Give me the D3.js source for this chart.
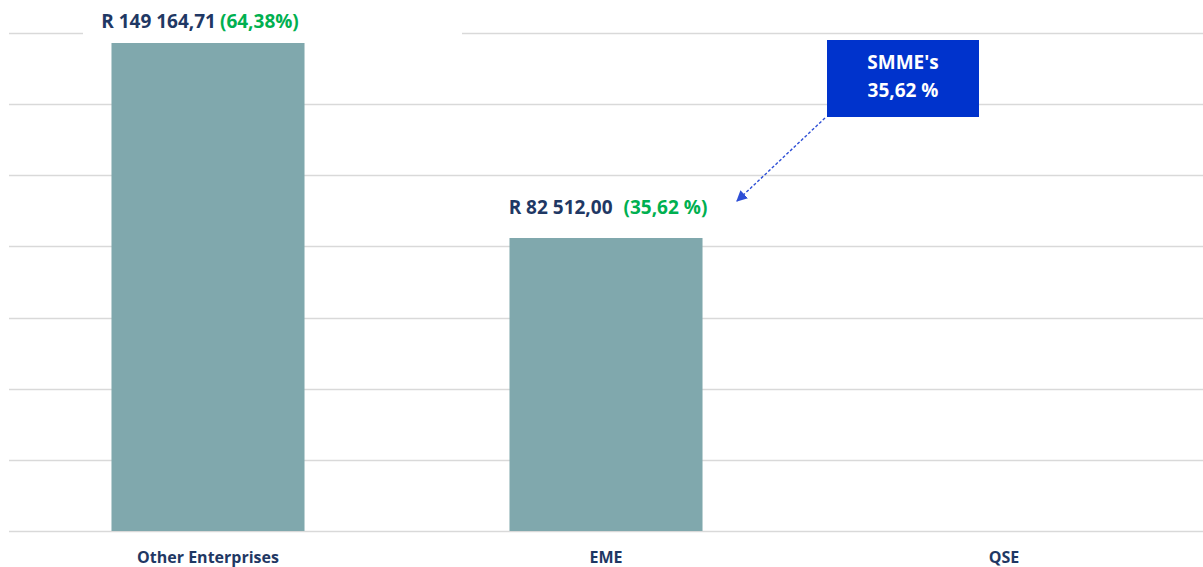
<!DOCTYPE html>
<html><head><meta charset="utf-8">
<script src="https://cdn.jsdelivr.net/npm/d3@7"></script>
<style>body{margin:0;background:#fff}svg{display:block}</style>
</head><body>
<svg id="c" width="1203" height="567"></svg>
<script>
const categories = ["Other Enterprises", "EME", "QSE"];
// bar heights as plotted
const barValues = [149164.71, 89560, 0];
const amountLabels = ["R 149 164,71", "R 82 512,00", ""];
const shareLabels = ["(64,38%)", "(35,62 %)", ""];
const calloutLines = ["SMME's", "35,62 %"];
const gridCount = 7;

const svg = d3.select("#c");
const W = 1203, H = 567;
const m = {left: 9, right: 0, top: 33, bottom: 36};
const x = d3.scaleBand().domain(categories).range([m.left, W - m.right]).paddingInner(0.515).paddingOuter(0.2575);
const y = d3.scaleLinear().domain([0, 152221]).range([H - m.bottom, m.top]);
const font = "'Open Sans', sans-serif";
const navy = "#1F3864", green = "#00B050";

// gridlines
svg.append("g").selectAll("line").data(d3.range(gridCount + 1).map(i => i * 152221 / gridCount))
  .join("line")
  .attr("x1", m.left).attr("x2", W - m.right)
  .attr("y1", d => Math.round(y(d)) + 0.5).attr("y2", d => Math.round(y(d)) + 0.5)
  .attr("stroke", "#D9D9D9").attr("stroke-width", 1.5);

// bars
svg.append("g").selectAll("rect").data(categories).join("rect")
  .attr("x", d => x(d)).attr("width", x.bandwidth())
  .attr("y", (d, i) => y(barValues[i])).attr("height", (d, i) => y(0) - y(barValues[i]))
  .attr("fill", "#80A8AD");

// category labels
svg.append("g").selectAll("text").data(categories).join("text")
  .attr("x", d => x(d) + x.bandwidth() / 2).attr("y", 563)
  .attr("text-anchor", "middle").attr("font-family", font).attr("font-weight", 700)
  .attr("font-size", 16).attr("fill", navy).text(d => d);

// white background behind first label (interrupts top gridline)
svg.append("rect").attr("x", 83).attr("y", 2).attr("width", 379).attr("height", 38).attr("fill", "#fff");
categories.forEach((c, i) => {
  if (!amountLabels[i]) return;
  const t = svg.append("text").attr("font-family", font).attr("font-weight", 700).attr("font-size", 19)
    .attr("y", i === 0 ? 28 : 214).attr("x", x(c) + x.bandwidth() / 2 + (i === 0 ? -8 : 2)).attr("text-anchor", "middle");
  t.append("tspan").attr("fill", navy).text(amountLabels[i]);
  t.append("tspan").attr("fill", green).attr("dx", i === 0 ? 4 : 11).text(shareLabels[i]);
});

// callout
svg.append("rect").attr("x", 827).attr("y", 40).attr("width", 152).attr("height", 77).attr("fill", "#0033CC");
svg.append("g").selectAll("text").data(calloutLines).join("text")
  .attr("x", 903).attr("y", (d, i) => 69 + i * 28).attr("text-anchor", "middle")
  .attr("font-family", font).attr("font-weight", 700).attr("font-size", 19).attr("fill", "#fff").text(d => d);

// arrow
svg.append("defs").append("marker").attr("id", "ah").attr("viewBox", "0 0 10 10")
  .attr("refX", 9).attr("refY", 5).attr("markerWidth", 11).attr("markerHeight", 11).attr("orient", "auto")
  .attr("markerUnits", "userSpaceOnUse")
  .append("path").attr("d", "M0,0L10,5L0,10z").attr("fill", "#2E4FD6");
svg.append("line").attr("x1", 825).attr("y1", 118).attr("x2", 737).attr("y2", 201)
  .attr("stroke", "#2E4FD6").attr("stroke-width", 1.4).attr("stroke-dasharray", "3,2")
  .attr("marker-end", "url(#ah)");
</script>
</body></html>
